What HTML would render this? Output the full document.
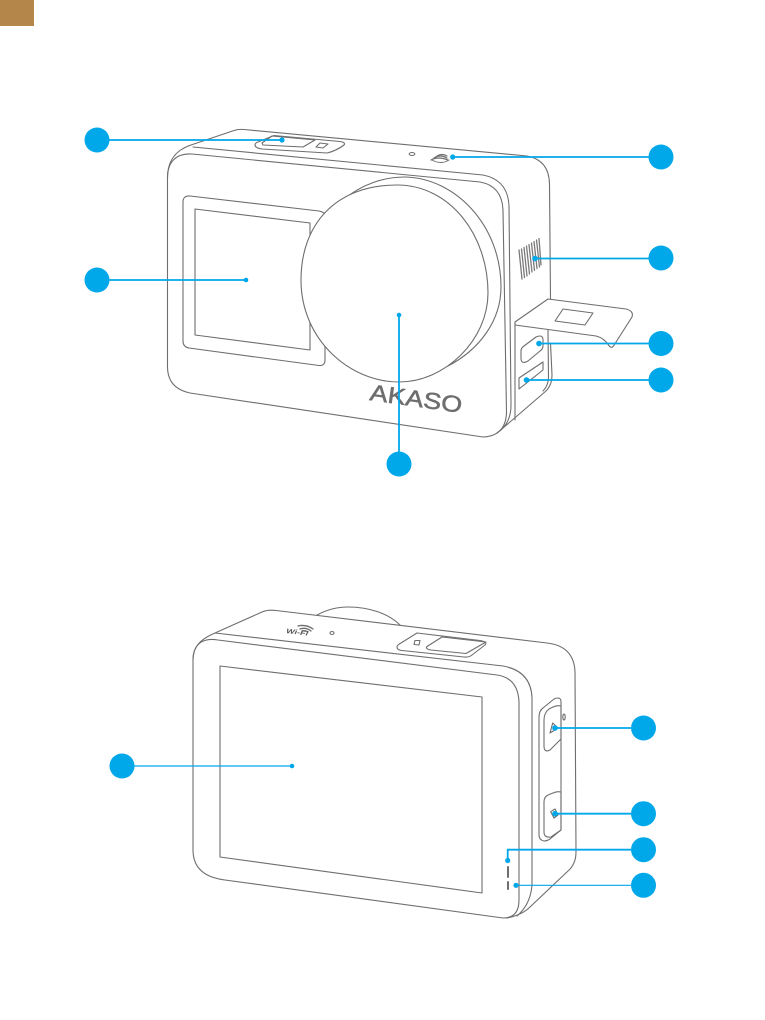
<!DOCTYPE html>
<html><head><meta charset="utf-8"><style>html,body{margin:0;padding:0;background:#fff}svg{display:block}</style></head>
<body>
<svg width="765" height="1020" viewBox="0 0 765 1020" xmlns="http://www.w3.org/2000/svg">
<rect x="0" y="0" width="34" height="26" fill="#b5864a"/>
<g fill="none" stroke="#6e6e6e" stroke-width="1.1" stroke-linejoin="round" stroke-linecap="round">
<!-- FRONT body -->
<path d="M167.5,178 C167.5,160 176,150 191,145 L234,130.5 Q238,129 244,129.5 L527,156 Q549,160 549.5,184 L550.5,299"/>
<path d="M193,147 L483,175 Q508,180 509,206 L511,405 Q511,424 497,433"/>
<path d="M167.5,178 C167.5,162 176,153 192,154 L480,182 Q502,186 503,210 L506.5,412 Q506,436 483,437 L190,393 Q167,388 167.5,366 Z"/>
<path d="M497,433 L510,422 L546,391 Q552,385 552,375 L550.5,343"/>
<path d="M515,323 L515,420"/>
<path d="M548,330 L548.5,378 Q548,386 543,391"/>
<!-- door -->
<path d="M515,322 L548,299 L626,309 Q634,311 632,317 L613.5,346 Q611,349 608.5,345 Q604,338 596,336 L515,325 Z" fill="#fff"/>
<path d="M563,309 L593,313 L585,325 L555,321 Z"/>
<!-- ports -->
<path d="M521,351 Q521,348 524,346 L536,337 Q543,334 543,340 L543,346 Q543,349 540,351 L528,361 Q521,365 521,358 Z"/>
<path d="M519,378 L543,362 L543,370 L519,389 Z"/>
<!-- speaker -->
<g stroke="#7a7a7a" stroke-width="1.300">
<path d="M519,250 L522,279"/><path d="M521.500,249 L524.500,277.500"/><path d="M524,247.500 L527,276"/><path d="M526.500,246 L529.500,274"/><path d="M529,244.500 L532,272"/><path d="M531.500,243 L534.500,270.500"/><path d="M534,241.500 L537,268.500"/><path d="M536.500,240 L539.500,267"/><path d="M539,238.500 L541,265"/>
</g>
<!-- top controls -->
<path d="M255,145 Q255,143 258,142 L274,135.500 L340,141.500 Q346,142.500 344,145 Q336,151 327,153 L262,149 Q255,148 255,145 Z"/>
<path d="M262,143 L272,136 L315,140 L303,147 L263,145 Z"/>
<path d="M316,147 L320,143 L328,144 L323,148 Z"/>
<ellipse cx="412" cy="154" rx="2.800" ry="1.500"/>
<path d="M431,160 Q438,156 448,160 M434,158 Q440,154 447,158 M437,156 Q442,153 447,156" stroke-width="1.200"/>
<path d="M432,160 Q441,165 449,160" stroke-width="1"/>
<!-- small screen -->
<path d="M324,213 Q322,211.500 319,211 L190,196 Q183,195.500 183,202 L183,341 Q183,347 189,348 L319,365.500 Q325,366 325,360 L325,345"/>
<path d="M195,209 L310,223 L310,350 L195,335 Z"/>
<!-- lens -->
<path d="M343,200 C362,184 384,177 405,177 C455,178 501,225 501,287 C501,320 480,350 446,367"/>
<path d="M301,280 C301,225 335,185 397,185 C450,185 488,235 488,293 C488,340 445,382 399,382 C350,382 301,340 301,280 Z" fill="#fff"/>
<!-- BACK body -->
<path d="M193,660 C193,646 201,639 215,633 L262,612 Q268,609.500 276,610.500 L547,643 Q574,646 575,672 L576,852 Q576,864 568,871 L530,907 Q522,915 507,918"/>
<path d="M215,633 L503,666 Q531,671 532,698 L532,884 Q531,904 517,916"/>
<path d="M193,660 C193,646 201,637 218,640 L497,675 Q518,678 519,702 L519,900 Q519,918 503,918 L225,880 Q193,876 193,850 Z"/>
<path d="M220,666 L482,697 L482,893 L220,857 Z"/>
<path d="M317,615 C328,609 338,607 348,607 C368,607 388,613 400,625"/>
<!-- back top button -->
<path d="M397,647 Q397,645 401,643 L417,633 L480,640.500 Q488,642 485,645 L472,655 Q469,657.500 464,657 L402,650.500 Q397,650 397,647 Z"/>
<path d="M427,646.500 L442,637 L486,642 L466,653.500 L431,650 Q425,649 427,646.500 Z"/>
<path d="M415,640.500 L420,640.500 L419,645 L414,644.500 Z"/>
<ellipse cx="332" cy="633" rx="2" ry="1.500" />
<path d="M298,626 Q306,624 313,629 M300,629 Q306,627 311,631 M302,631 Q305,630 308,632" stroke-width="1.300"/>
<!-- side panel -->
<path d="M539,717 Q539,711 543,708 L554,699 Q561,696 561,702 L561,830 L550,839 Q547,841 544,841 Q539,840 539,835 Z"/>
<path d="M544,720 Q544,713 549,709 L553,707 Q557,705 561,706 L561,739 L550,750 Q544,753 544,746 Z"/>
<path d="M544,802 Q544,797 548,795 L553,793 Q557,791 561,792 L561,830 L551,837 Q544,838 544,832 Z"/>
<ellipse cx="564" cy="717" rx="1.200" ry="3"/>
<path d="M552.700,723 L550,733 L558,728 Z"/>
<path d="M550.700,811.700 L555,809 L558,815 L554,818 Z"/>
<path d="M508,867 L508,877 M508,882 L508,889" stroke-width="2"/>
</g>
<text x="0" y="0" transform="translate(369,400) rotate(8)" font-family="Liberation Sans, sans-serif" font-size="23" font-weight="400" fill="#6e6e6e" stroke="#6e6e6e" stroke-width=".5" textLength="93" lengthAdjust="spacingAndGlyphs">AKASO</text>
<text x="0" y="0" transform="translate(286,633) rotate(7)" font-family="Liberation Sans, sans-serif" font-size="6.500" font-weight="700" font-style="italic" fill="#555" textLength="22" lengthAdjust="spacingAndGlyphs">Wi-Fi</text>
<!-- callouts -->
<g stroke="#00a7e9" fill="none" stroke-width="1.800">
<path d="M97,140 L282,140"/><path d="M97,280 L246,280"/><path d="M399,315 L399,464"/>
<path d="M452.500,157 L661,157"/><path d="M535,258.500 L661,258.500"/><path d="M539,343.500 L661,343.500"/><path d="M526.500,380 L661,380"/>
<path d="M122,766 L292,766" stroke-width="1.200"/>
<path d="M555,728 L643,728"/><path d="M555,813.700 L643,813.700"/><path d="M507.700,860 L507.700,849.700 L643,849.700"/><path d="M516,885.300 L643,885.300" stroke-width="1.200"/>
</g>
<g fill="#00a7e9">
<circle cx="97" cy="140" r="12.500"/><circle cx="97" cy="280" r="12.500"/><circle cx="661" cy="157" r="12.500"/><circle cx="661" cy="258" r="12.500"/><circle cx="661" cy="343.500" r="12.500"/><circle cx="661" cy="380" r="12.500"/><circle cx="399" cy="464" r="12.500"/>
<circle cx="122" cy="766" r="12.500"/><circle cx="643.500" cy="728" r="12.500"/><circle cx="643.500" cy="813.700" r="12.500"/><circle cx="643.500" cy="849.700" r="12.500"/><circle cx="643.500" cy="885.300" r="12.500"/>
<circle cx="282" cy="140" r="2.600"/><circle cx="246" cy="280" r="2.300"/><circle cx="399" cy="315" r="2.300"/><circle cx="452.700" cy="157" r="2.600"/><circle cx="535" cy="258.500" r="2.800"/><circle cx="539" cy="343.500" r="2.800"/><circle cx="526.500" cy="380" r="2.800"/>
<circle cx="292" cy="766" r="2.300"/><circle cx="555" cy="728" r="2.800"/><circle cx="555" cy="813.700" r="2.800"/><circle cx="507.700" cy="860.500" r="2.600"/><circle cx="516" cy="885.300" r="2.600"/>
</g>
</svg>
</body></html>
